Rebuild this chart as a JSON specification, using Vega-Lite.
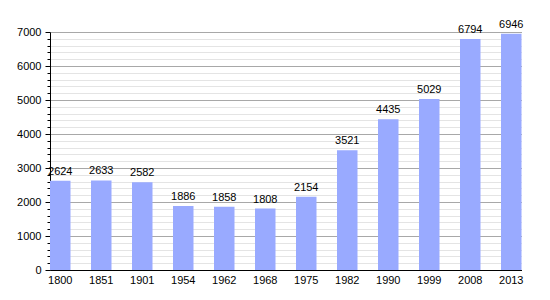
{
  "$schema": "https://vega.github.io/schema/vega-lite/v6.json",
  "width": 471.5,
  "height": 238,
  "autosize": {"type": "none"},
  "padding": {"left": 50, "top": 32, "right": 28, "bottom": 30},
  "background": "white",
  "config": {"view": {"stroke": null}, "font": "Liberation Sans"},
  "data": {"values": [
    {"year": "1800", "pop": 2624},
    {"year": "1851", "pop": 2633},
    {"year": "1901", "pop": 2582},
    {"year": "1954", "pop": 1886},
    {"year": "1962", "pop": 1858},
    {"year": "1968", "pop": 1808},
    {"year": "1975", "pop": 2154},
    {"year": "1982", "pop": 3521},
    {"year": "1990", "pop": 4435},
    {"year": "1999", "pop": 5029},
    {"year": "2008", "pop": 6794},
    {"year": "2013", "pop": 6946}
  ]},
  "encoding": {
    "x": {"field": "year", "type": "ordinal", "sort": null,
      "scale": {"paddingInner": 0.5, "paddingOuter": 0, "align": 0},
      "axis": {"title": null, "labelAngle": 0, "ticks": false, "domainColor": "black", "labelColor": "black", "labelFontSize": 11, "labelPadding": 4}},
    "y": {"field": "pop", "type": "quantitative",
      "scale": {"domain": [0, 7000], "nice": false},
      "axis": {"title": null,
        "values": [0,200,400,600,800,1000,1200,1400,1600,1800,2000,2200,2400,2600,2800,3000,3200,3400,3600,3800,4000,4200,4400,4600,4800,5000,5200,5400,5600,5800,6000,6200,6400,6600,6800,7000],
        "labelExpr": "datum.value % 1000 === 0 ? datum.label : ''",
        "format": "d",
        "gridColor": {"condition": {"test": "datum.value % 1000 === 0", "value": "#a8a8a8"}, "value": "#e4e4e4"},
        "tickSize": {"condition": {"test": "datum.value % 1000 === 0", "value": 5}, "value": 3},
        "tickColor": "black",
        "domainColor": "black",
        "labelColor": "black",
        "labelFontSize": 11,
        "labelPadding": 4,
        "labelBound": false,
        "labelOverlap": false}}
  },
  "layer": [
    {"mark": {"type": "bar", "color": "#99aaff"}},
    {"mark": {"type": "text", "baseline": "bottom", "dy": -4, "fontSize": 11, "color": "black"},
     "encoding": {"text": {"field": "pop", "type": "quantitative", "format": "d"}}}
  ]
}
